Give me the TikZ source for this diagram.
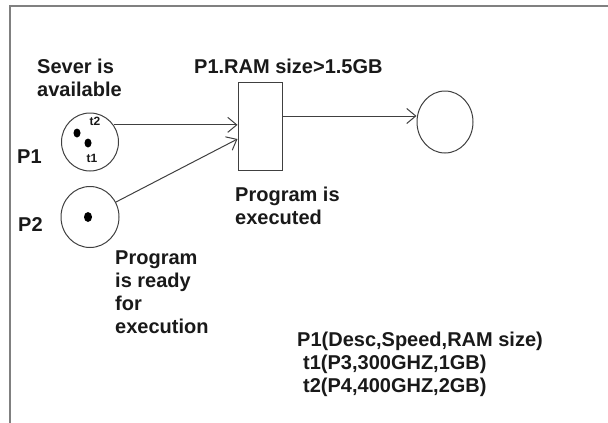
\documentclass[tikz,border=0pt]{standalone}
\usepackage{fontspec}
\setmainfont{Liberation Sans}
\usetikzlibrary{positioning,calc,arrows.meta,shapes.geometric}

\begin{document}
\begin{tikzpicture}[x=1pt,y=-1pt,
  every node/.style={font=\bfseries\fontsize{20}{23}\selectfont,text=black!90},
  txt/.style={anchor=base west,align=left,inner sep=0pt},
  place/.style={draw=black!75,line width=1pt,ellipse,inner sep=0pt},
  tok/.style={fill=black,ellipse,inner sep=0pt,minimum width=7pt,minimum height=9pt},
  lbl/.style={font=\bfseries\fontsize{12}{13}\selectfont,fill=white,inner sep=0.5pt},
  arc/.style={draw=black!75,line width=1pt,-{Straight Barb[length=9pt,width=15pt]}}]
\useasboundingbox (0,0) rectangle (608,423);
\draw[black!50,line width=2pt] (608,6) -- (10,6) -- (10,423);
% places and transition
\node[place,minimum width=57pt,minimum height=58pt] (p1) at (90,142) {};
\node[place,minimum width=58pt,minimum height=61pt] (p2) at (90,217) {};
\node[place,minimum width=56pt,minimum height=62pt] (p3) at (445,122) {};
\node[draw=black!75,line width=1pt,minimum width=44pt,minimum height=88pt,inner sep=0pt] (tr) at (260,126) {};
% tokens
\node[tok] (k1) at (77,133) {};
\node[tok] (k2) at (88,143) {};
\node[tok,minimum width=8pt,minimum height=10pt] (k3) at (88,217) {};
\node[lbl] (t2) at (95,121) {t2};
\node[lbl] (t1) at (92,158) {t1};
% labels
\node[txt] (sever) at (37,96) {Sever is\\available};
\node[txt] (guard) at (194,73) {P1.RAM size>1.5GB};
\node[txt] (lp1) at (17,163) {P1};
\node[txt] (lp2) at (18,231) {P2};
\node[txt] (done) at (235,224) {Program is\\executed};
\node[txt] (ready) at (115,333) {Program\\is ready\\for\\execution};
\node[txt] (attr) at (297,392) {P1(Desc,Speed,RAM size)\\\hspace*{6pt}t1(P3,300GHZ,1GB)\\\hspace*{6pt}t2(P4,400GHZ,2GB)};
% arcs
\draw[arc] (p1.36) -- (p1.36 -| tr.west);
\draw[arc] (p2.30) -- ([yshift=-13pt]tr.west);
\draw[arc] ([yshift=10pt]tr.east) -- ([yshift=10pt]tr.east -| p3.west);
\end{tikzpicture}
\end{document}
